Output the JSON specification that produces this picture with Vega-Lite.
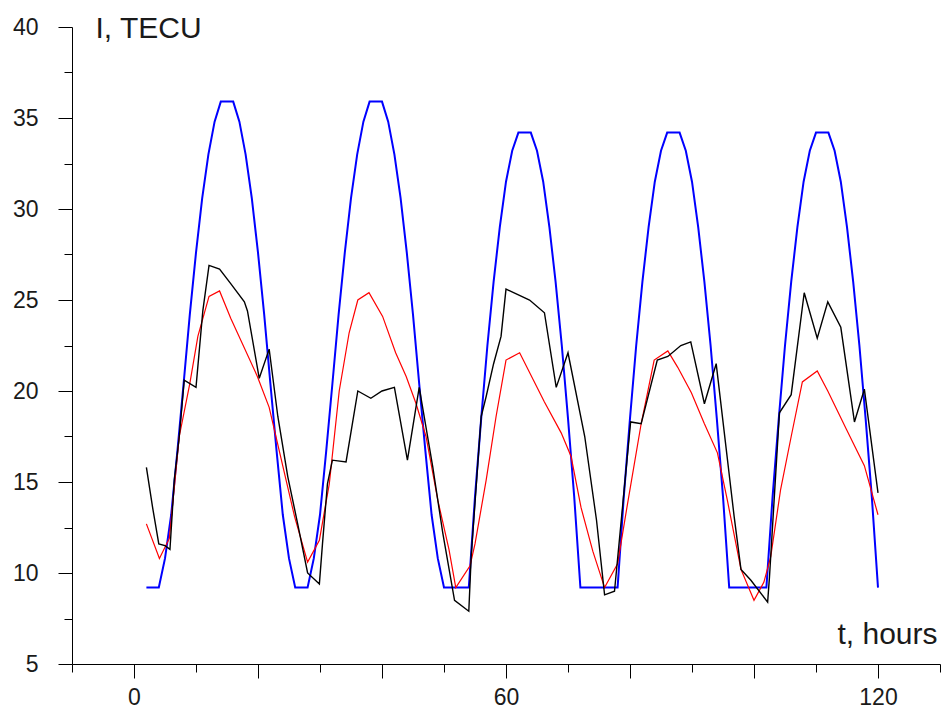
{
  "$schema": "https://vega.github.io/schema/vega-lite/v6.json",
  "autosize": {"type": "none"},
  "width": 868,
  "height": 637,
  "padding": {"left": 72, "top": 27, "right": 1, "bottom": 47},
  "background": "white",
  "config": {"view": {"stroke": null}, "font": "Liberation Sans"},
  "datasets": {
    "blue": [
      {"t":2,"v":9.2},{"t":3,"v":9.2},{"t":4,"v":9.2},{"t":5,"v":10.8},{"t":6,"v":13.2},{"t":7,"v":16.7},{"t":8,"v":20.4},{"t":9,"v":24.2},{"t":10,"v":27.6},{"t":11,"v":30.6},{"t":12,"v":33.0},{"t":13,"v":34.8},{"t":14,"v":35.9},{"t":15,"v":35.9},{"t":16,"v":35.9},{"t":17,"v":34.8},{"t":18,"v":33.0},{"t":19,"v":30.6},{"t":20,"v":27.6},{"t":21,"v":24.2},{"t":22,"v":20.4},{"t":23,"v":16.7},{"t":24,"v":13.2},{"t":25,"v":10.8},{"t":26,"v":9.2},{"t":27,"v":9.2},{"t":28,"v":9.2},{"t":29,"v":10.8},{"t":30,"v":13.2},{"t":31,"v":16.7},{"t":32,"v":20.4},{"t":33,"v":24.2},{"t":34,"v":27.6},{"t":35,"v":30.6},{"t":36,"v":33.0},{"t":37,"v":34.8},{"t":38,"v":35.9},{"t":39,"v":35.9},{"t":40,"v":35.9},{"t":41,"v":34.8},{"t":42,"v":33.0},{"t":43,"v":30.6},{"t":44,"v":27.6},{"t":45,"v":24.2},{"t":46,"v":20.4},{"t":47,"v":16.7},{"t":48,"v":13.2},{"t":49,"v":10.8},{"t":50,"v":9.2},{"t":51,"v":9.2},{"t":52,"v":9.2},{"t":53,"v":9.2},{"t":54,"v":9.2},{"t":55,"v":14.2},{"t":56,"v":18.5},{"t":57,"v":22.5},{"t":58,"v":26.0},{"t":59,"v":29.0},{"t":60,"v":31.5},{"t":61,"v":33.2},{"t":62,"v":34.2},{"t":63,"v":34.2},{"t":64,"v":34.2},{"t":65,"v":33.2},{"t":66,"v":31.5},{"t":67,"v":29.0},{"t":68,"v":26.0},{"t":69,"v":22.5},{"t":70,"v":18.5},{"t":71,"v":14.2},{"t":72,"v":9.2},{"t":73,"v":9.2},{"t":74,"v":9.2},{"t":75,"v":9.2},{"t":76,"v":9.2},{"t":77,"v":9.2},{"t":78,"v":9.2},{"t":79,"v":14.2},{"t":80,"v":18.5},{"t":81,"v":22.5},{"t":82,"v":26.0},{"t":83,"v":29.0},{"t":84,"v":31.5},{"t":85,"v":33.2},{"t":86,"v":34.2},{"t":87,"v":34.2},{"t":88,"v":34.2},{"t":89,"v":33.2},{"t":90,"v":31.5},{"t":91,"v":29.0},{"t":92,"v":26.0},{"t":93,"v":22.5},{"t":94,"v":18.5},{"t":95,"v":14.2},{"t":96,"v":9.2},{"t":97,"v":9.2},{"t":98,"v":9.2},{"t":99,"v":9.2},{"t":100,"v":9.2},{"t":101,"v":9.2},{"t":102,"v":9.2},{"t":103,"v":14.2},{"t":104,"v":18.5},{"t":105,"v":22.5},{"t":106,"v":26.0},{"t":107,"v":29.0},{"t":108,"v":31.5},{"t":109,"v":33.2},{"t":110,"v":34.2},{"t":111,"v":34.2},{"t":112,"v":34.2},{"t":113,"v":33.2},{"t":114,"v":31.5},{"t":115,"v":29.0},{"t":116,"v":26.0},{"t":117,"v":22.5},{"t":118,"v":18.5},{"t":119,"v":14.2},{"t":120,"v":9.2}
    ],
    "red": [
      {"t":2,"v":12.7},{"t":4.1,"v":10.8},{"t":5.7,"v":11.9},{"t":7.3,"v":17.5},{"t":9,"v":20.4},{"t":10.3,"v":23.0},{"t":12.1,"v":25.2},{"t":13.8,"v":25.5},{"t":15.6,"v":24.0},{"t":19.9,"v":20.8},{"t":21.8,"v":19.1},{"t":25.9,"v":13.1},{"t":28,"v":10.6},{"t":29.9,"v":11.8},{"t":31.5,"v":14.9},{"t":33.1,"v":20.0},{"t":34.7,"v":23.2},{"t":36.1,"v":25.0},{"t":37.9,"v":25.4},{"t":40.1,"v":24.1},{"t":42.2,"v":22.1},{"t":43.9,"v":20.8},{"t":45.5,"v":19.3},{"t":47.1,"v":17.5},{"t":49,"v":14.0},{"t":50.8,"v":11.3},{"t":51.9,"v":9.2},{"t":54.2,"v":10.4},{"t":55,"v":11.6},{"t":56.8,"v":15.1},{"t":58.4,"v":18.6},{"t":60,"v":21.7},{"t":62.2,"v":22.1},{"t":66.2,"v":19.4},{"t":68.9,"v":17.7},{"t":70.5,"v":16.4},{"t":72.1,"v":13.6},{"t":74,"v":11.2},{"t":75.9,"v":9.2},{"t":78,"v":10.5},{"t":79.6,"v":13.8},{"t":81.8,"v":18.2},{"t":83.9,"v":21.7},{"t":86.1,"v":22.2},{"t":87.7,"v":21.3},{"t":89.9,"v":19.9},{"t":92,"v":18.2},{"t":94.1,"v":16.6},{"t":95.7,"v":14.0},{"t":97.9,"v":10.2},{"t":100,"v":8.5},{"t":101.6,"v":9.5},{"t":102.7,"v":10.9},{"t":104.3,"v":14.6},{"t":106,"v":17.5},{"t":107.8,"v":20.5},{"t":110.2,"v":21.1},{"t":111.9,"v":20.0},{"t":114.9,"v":17.9},{"t":117.8,"v":15.9},{"t":120,"v":13.2}
    ],
    "black": [
      {"t":2,"v":15.8},{"t":3,"v":13.6},{"t":4,"v":11.6},{"t":5,"v":11.5},{"t":5.8,"v":11.3},{"t":6.5,"v":15.1},{"t":7.3,"v":17.5},{"t":8.1,"v":20.6},{"t":10,"v":20.2},{"t":11.1,"v":24.4},{"t":12.1,"v":26.9},{"t":13.8,"v":26.7},{"t":15.6,"v":25.9},{"t":17.8,"v":24.9},{"t":18.3,"v":24.4},{"t":20.2,"v":20.7},{"t":21.8,"v":22.3},{"t":23.2,"v":18.6},{"t":24.8,"v":15.3},{"t":26.4,"v":12.7},{"t":28,"v":10.0},{"t":29.9,"v":9.4},{"t":30.4,"v":11.6},{"t":31.2,"v":14.9},{"t":32,"v":16.2},{"t":34.2,"v":16.1},{"t":36.1,"v":20.0},{"t":38.2,"v":19.6},{"t":40,"v":20.0},{"t":42,"v":20.2},{"t":44.1,"v":16.2},{"t":46,"v":20.2},{"t":48.2,"v":15.8},{"t":49.8,"v":12.2},{"t":51.7,"v":8.5},{"t":54,"v":7.9},{"t":54.4,"v":11.0},{"t":56,"v":18.6},{"t":56.8,"v":19.7},{"t":58,"v":21.5},{"t":59.2,"v":23.0},{"t":60,"v":25.6},{"t":63.8,"v":25.0},{"t":66.2,"v":24.3},{"t":68.1,"v":20.2},{"t":70,"v":22.1},{"t":72.7,"v":17.5},{"t":74.6,"v":12.9},{"t":75.9,"v":8.8},{"t":77.5,"v":9.0},{"t":80.1,"v":18.3},{"t":81.8,"v":18.2},{"t":84.4,"v":21.7},{"t":86.1,"v":21.9},{"t":88.2,"v":22.5},{"t":89.8,"v":22.7},{"t":92,"v":19.3},{"t":93.9,"v":21.5},{"t":96.8,"v":13.1},{"t":97.9,"v":10.2},{"t":99.5,"v":9.6},{"t":102.2,"v":8.4},{"t":102.5,"v":9.8},{"t":104.1,"v":18.8},{"t":106,"v":19.8},{"t":108.1,"v":25.4},{"t":110.2,"v":22.9},{"t":111.9,"v":24.9},{"t":114,"v":23.5},{"t":116.2,"v":18.3},{"t":117.8,"v":20.1},{"t":120,"v":14.4}
    ]
  },
  "encoding": {
    "x": {
      "field": "t", "type": "quantitative",
      "scale": {"domain": [-10, 130], "nice": false, "zero": false},
      "axis": {
        "values": [-10,0,10,20,30,40,50,60,70,80,90,100,110,120,130],
        "labelExpr": "datum.value % 60 == 0 ? datum.label : ''",
        "tickSize": {"condition": {"test": "datum.value % 20 == 0", "value": 14}, "value": 8},
        "labelPadding": 8,
        "labelFontSize": 23, "labelColor": "#1a1a1a", "labelFont": "Liberation Sans",
        "labelFlush": false, "labelOverlap": false, "labelBound": false,
        "domainColor": "black", "tickColor": "black", "domainWidth": 1, "tickWidth": 1,
        "grid": false,
        "title": "t, hours", "titleX": 865, "titleY": -21, "titleAlign": "right", "titleBaseline": "alphabetic",
        "titleFontSize": 30, "titleFontWeight": "normal", "titleColor": "#1a1a1a", "titleFont": "Liberation Sans"
      }
    },
    "y": {
      "field": "v", "type": "quantitative",
      "scale": {"domain": [5, 40], "nice": false, "zero": false},
      "axis": {
        "values": [5,7.5,10,12.5,15,17.5,20,22.5,25,27.5,30,32.5,35,37.5,40],
        "labelExpr": "datum.value % 5 == 0 ? datum.label : ''",
        "tickSize": {"condition": {"test": "datum.value % 5 == 0", "value": 14}, "value": 8},
        "labelPadding": 20,
        "labelFontSize": 23, "labelColor": "#1a1a1a", "labelFont": "Liberation Sans",
        "labelFlush": false, "labelOverlap": false, "labelBound": false,
        "domainColor": "black", "tickColor": "black", "domainWidth": 1, "tickWidth": 1,
        "grid": false,
        "title": "I, TECU", "titleAngle": 0, "titleX": 23, "titleY": 10, "titleAlign": "left", "titleBaseline": "alphabetic",
        "titleFontSize": 30, "titleFontWeight": "normal", "titleColor": "#1a1a1a", "titleFont": "Liberation Sans"
      }
    }
  },
  "layer": [
    {"data": {"name": "blue"}, "mark": {"type": "line", "color": "#0000ff", "strokeWidth": 2}},
    {"data": {"name": "red"}, "mark": {"type": "line", "color": "#ff0000", "strokeWidth": 1.2}},
    {"data": {"name": "black"}, "mark": {"type": "line", "color": "#000000", "strokeWidth": 1.4}}
  ]
}
